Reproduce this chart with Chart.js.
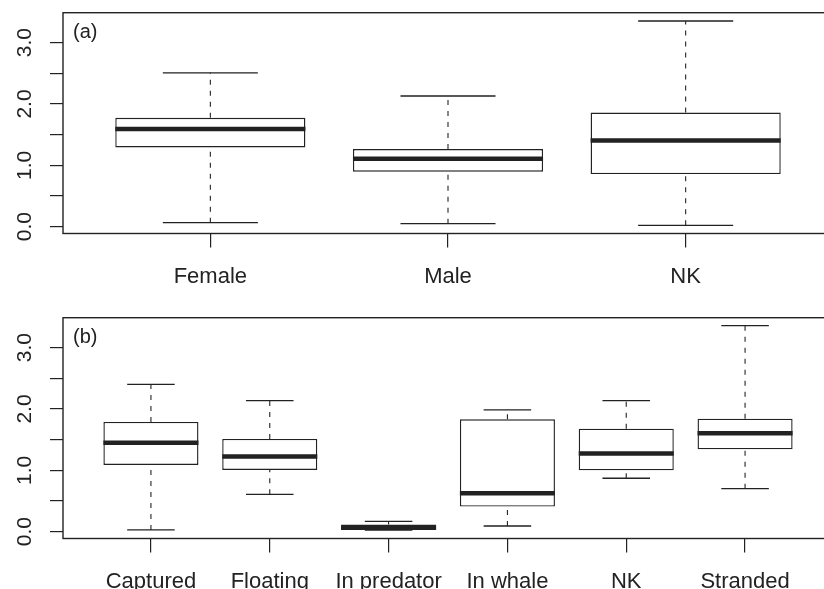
<!DOCTYPE html>
<html>
<head>
<meta charset="utf-8">
<script src="https://cdn.jsdelivr.net/npm/chart.js@4.4.1/dist/chart.umd.min.js"></script>
<style>
  html, body { margin: 0; padding: 0; background: #fff; overflow: hidden; }
  #wrap { width: 824px; height: 589px; overflow: hidden; position: relative; }
  .panel { position: absolute; left: 0; width: 840px; height: 305px; }
  #pa { top: 0; }
  #pb { top: 305px; }
</style>
</head>
<body>
<div id="wrap">
  <div class="panel" id="pa"><canvas id="chartA" width="840" height="305"></canvas></div>
  <div class="panel" id="pb"><canvas id="chartB" width="840" height="305"></canvas></div>
</div>
<script>
// panel (a): by sex
let sexLabels = ["Female", "Male", "NK"];
let sexMin = [0.065, 0.049, 0.022];
let sexQ1 = [1.29, 0.895, 0.857];
let sexMedian = [1.59, 1.107, 1.405];
let sexQ3 = [1.774, 1.264, 1.861];
let sexMax = [2.507, 2.13, 3.353];

// panel (b): by state
let stateLabels = ["Captured", "Floating", "In predator", "In whale", "NK", "Stranded"];
let stateMin = [0.027, 0.609, 0.025, 0.092, 0.87, 0.701];
let stateQ1 = [1.087, 1.005, 0.03, 0.408, 1.0, 1.342];
let stateMedian = [1.451, 1.223, 0.065, 0.625, 1.272, 1.603];
let stateQ3 = [1.788, 1.511, 0.115, 1.832, 1.679, 1.842];
let stateMax = [2.40, 2.136, 0.168, 1.984, 2.136, 3.359];

let yTicks = [0, 0.5, 1, 1.5, 2, 2.5, 3];

const INK = "#222";
const FONT = "'Liberation Sans', Arial, Helvetica, sans-serif";
const boxHalf = 0.4;   // R boxwex 0.8
const capHalf = 0.2;   // staplewex 0.5

function buildDatasets(mins, q1s, meds, q3s, maxs) {
    let box = [], whisk = [], caps = [], medLine = [];
    for (let i = 0; i < q1s.length; i++) {
        let x = i + 1;
        box.push({x: x, y: [q1s[i], q3s[i]]});
        whisk.push({x: x, y: q3s[i]}, {x: x, y: maxs[i]}, {x: x, y: null},
                   {x: x, y: mins[i]}, {x: x, y: q1s[i]}, {x: x, y: null});
        caps.push({x: x - capHalf, y: maxs[i]}, {x: x + capHalf, y: maxs[i]}, {x: x, y: null},
                  {x: x - capHalf, y: mins[i]}, {x: x + capHalf, y: mins[i]}, {x: x, y: null});
        medLine.push({x: x - boxHalf, y: meds[i]}, {x: x + boxHalf, y: meds[i]}, {x: x, y: null});
    }
    return [
        {type: "line", data: whisk, borderColor: INK, borderWidth: 1.1, borderDash: [5, 6],
         pointRadius: 0, spanGaps: false, order: 4},
        {type: "bar", data: box, backgroundColor: "#fff", borderColor: INK, borderWidth: 1.4,
         borderSkipped: false, categoryPercentage: 1, barPercentage: 0.8, order: 3},
        {type: "line", data: caps, borderColor: INK, borderWidth: 1.3,
         pointRadius: 0, spanGaps: false, order: 2},
        {type: "line", data: medLine, borderColor: INK, borderWidth: 4.5,
         pointRadius: 0, spanGaps: false, order: 1}
    ];
}

const framePlugin = {
    id: "frame",
    afterDatasetsDraw(chart, args, opts) {
        let a = chart.chartArea;
        let ctx = chart.ctx;
        ctx.save();
        ctx.strokeStyle = INK;
        ctx.lineWidth = 1.4;
        ctx.strokeRect(a.left, a.top, a.right - a.left, a.bottom - a.top);
        ctx.fillStyle = INK;
        ctx.font = "20px " + FONT;
        ctx.textBaseline = "middle";
        ctx.textAlign = "left";
        ctx.fillText(opts.tag, a.left + 10, a.top + 20);
        ctx.restore();
    }
};

function makeBoxChart(id, tag, cats, mins, q1s, meds, q3s, maxs) {
    let n = cats.length;
    let ext = 0.04 * n;
    new Chart(id, {
        type: "bar",
        data: {datasets: buildDatasets(mins, q1s, meds, q3s, maxs)},
        options: {
            responsive: false,
            animation: false,
            layout: {padding: {top: 12.7, right: 7, bottom: 0, left: 0}},
            plugins: {legend: {display: false}, tooltip: {enabled: false}, frame: {tag: tag}},
            scales: {
                x: {
                    type: "linear",
                    min: 0.5 - ext,
                    max: n + 0.5 + ext,
                    offset: false,
                    border: {display: false},
                    grid: {offset: false, drawOnChartArea: false, drawTicks: true, tickLength: 14,
                           color: INK, lineWidth: 1.2},
                    afterBuildTicks: (scale) => { scale.ticks = cats.map((c, i) => ({value: i + 1})); },
                    afterFit: (scale) => {
                        scale.height = 71.5;
                        scale.paddingLeft = 0;
                        scale.paddingRight = 0;
                    },
                    ticks: {
                        autoSkip: false, maxRotation: 0, padding: 16, color: INK,
                        font: {family: FONT, size: 22},
                        callback: (v) => cats[Math.round(v) - 1]
                    }
                },
                y: {
                    type: "linear",
                    min: -0.112,
                    max: 3.488,
                    border: {display: false},
                    grid: {drawOnChartArea: false, drawTicks: true, tickLength: 13, color: INK, lineWidth: 1.2},
                    afterBuildTicks: (scale) => { scale.ticks = yTicks.map(v => ({value: v})); },
                    afterFit: (scale) => {
                        scale.width = 63;
                        scale.paddingTop = 0;
                        scale.paddingBottom = 0;
                    },
                    ticks: {
                        minRotation: 90, maxRotation: 90, crossAlign: "center", padding: 10, color: INK,
                        font: {family: FONT, size: 21},
                        callback: (v) => (v % 1 === 0 ? v.toFixed(1) : "")
                    }
                }
            }
        },
        plugins: [framePlugin]
    });
}

makeBoxChart("chartA", "(a)", sexLabels, sexMin, sexQ1, sexMedian, sexQ3, sexMax);
makeBoxChart("chartB", "(b)", stateLabels, stateMin, stateQ1, stateMedian, stateQ3, stateMax);
</script>
</body>
</html>
